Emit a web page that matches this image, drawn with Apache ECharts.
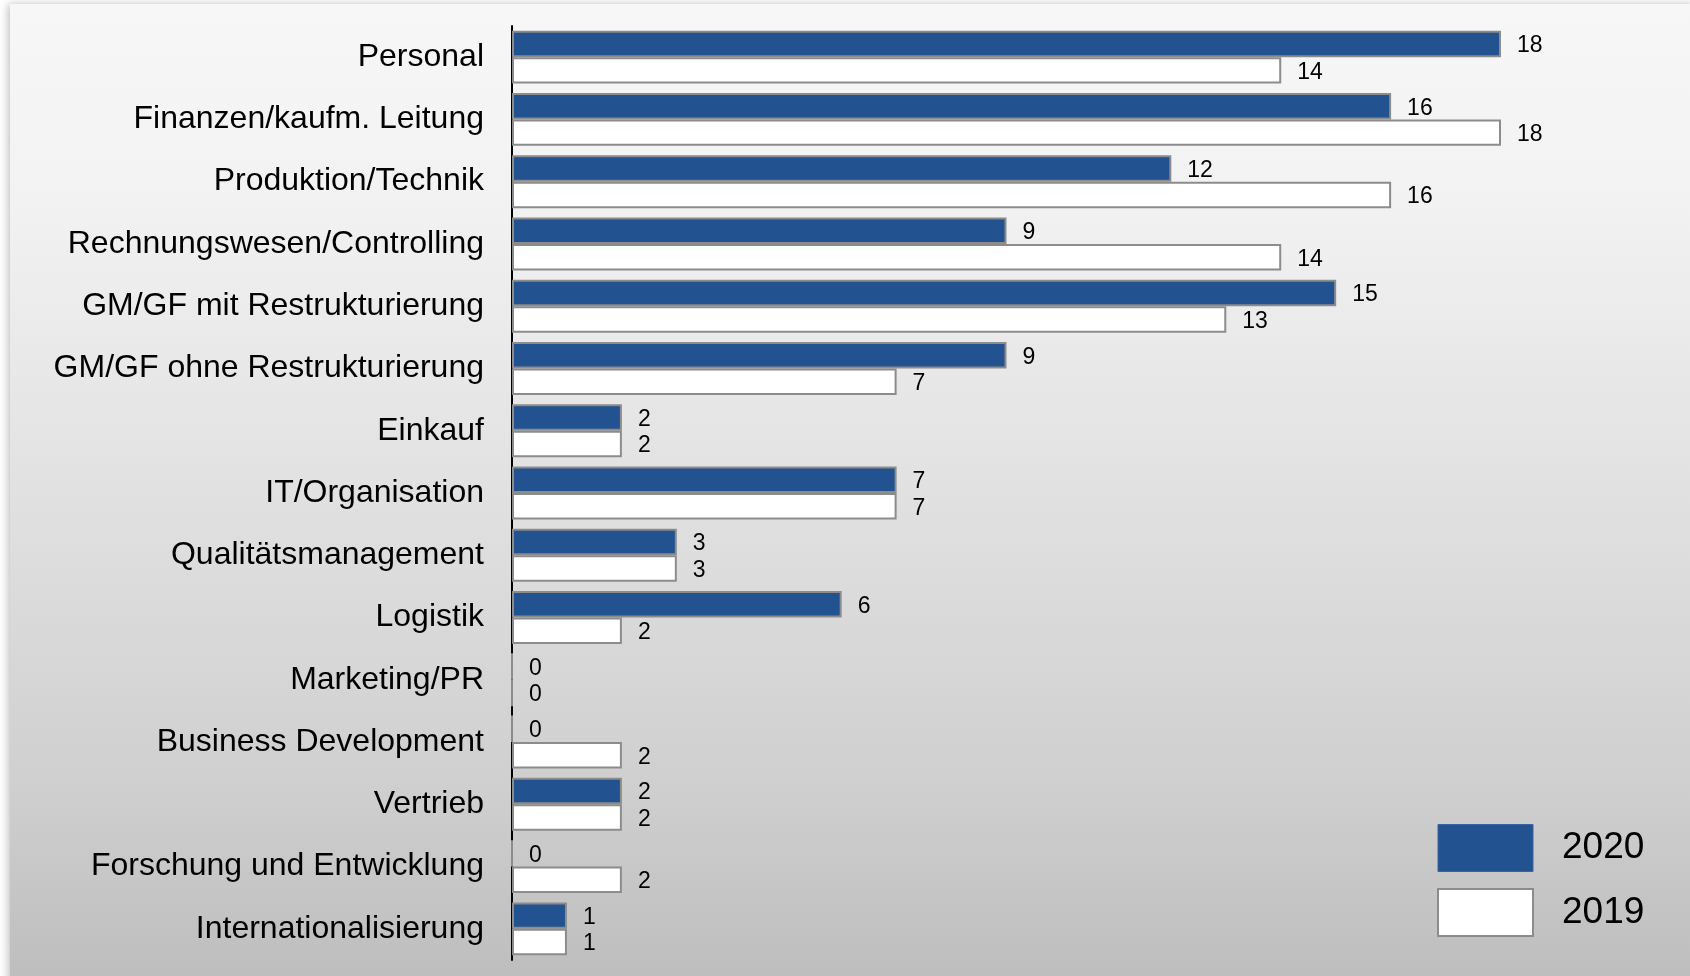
<!DOCTYPE html>
<html>
<head>
<meta charset="utf-8">
<script src="https://cdn.jsdelivr.net/npm/echarts@6/dist/echarts.min.js"></script>
<style>
html,body{margin:0;padding:0;background:#fff;}
#chart{width:1690px;height:976px;}
</style>
</head>
<body>
<div id="chart"></div>
<script>
const categories = [
  "Personal",
  "Finanzen/kaufm. Leitung",
  "Produktion/Technik",
  "Rechnungswesen/Controlling",
  "GM/GF mit Restrukturierung",
  "GM/GF ohne Restrukturierung",
  "Einkauf",
  "IT/Organisation",
  "Qualitätsmanagement",
  "Logistik",
  "Marketing/PR",
  "Business Development",
  "Vertrieb",
  "Forschung und Entwicklung",
  "Internationalisierung"
];
const values2020 = [18, 16, 12, 9, 15, 9, 2, 7, 3, 6, 0, 0, 2, 0, 1];
const values2019 = [14, 18, 16, 14, 13, 7, 2, 7, 3, 2, 0, 2, 2, 2, 1];
const seriesNames = ["2020", "2019"];

const FONT = "Liberation Sans, Arial, sans-serif";
const chart = echarts.init(document.getElementById('chart'), null, {renderer: 'canvas'});

const labelCfg = {
  show: true,
  position: 'right',
  distance: 16,
  offset: [0, 2],
  fontSize: 23,
  color: '#000',
  fontFamily: FONT
};

chart.setOption({
  animation: false,
  textStyle: {fontFamily: FONT},
  graphic: {
    elements: [{
      type: 'rect',
      z: -100,
      silent: true,
      shape: {x: 10, y: 4, width: 1685, height: 980},
      style: {
        fill: new echarts.graphic.LinearGradient(0, 0, 0, 1, [
          {offset: 0, color: '#f7f7f7'},
          {offset: 0.2, color: '#f2f2f2'},
          {offset: 0.5, color: '#e1e1e1'},
          {offset: 0.8, color: '#cfcfcf'},
          {offset: 1, color: '#bdbdbd'}
        ]),
        shadowBlur: 8,
        shadowColor: 'rgba(0,0,0,0.25)',
        shadowOffsetX: -2,
        shadowOffsetY: 0
      }
    }]
  },
  grid: {left: 512, top: 26, width: 989, bottom: 16, containLabel: false},
  xAxis: {
    type: 'value',
    min: 0,
    max: 18,
    show: false,
    splitLine: {show: false}
  },
  yAxis: {
    type: 'category',
    data: categories,
    inverse: true,
    axisLine: {show: true, lineStyle: {color: '#000', width: 2}},
    axisTick: {show: false},
    axisLabel: {fontSize: 32, color: '#000', margin: 28, fontFamily: FONT}
  },
  legend: {
    orient: 'vertical',
    left: 1432,
    top: 819,
    itemWidth: 95,
    itemHeight: 47,
    itemGap: 16,
    icon: 'rect',
    textStyle: {fontSize: 37, color: '#000', fontFamily: FONT, padding: [0, 0, 0, 24]},
    data: [
      {name: seriesNames[0], itemStyle: {borderColor: '#3b63a0', borderWidth: 1}},
      {name: seriesNames[1], itemStyle: {borderColor: '#8c8c8c', borderWidth: 2}}
    ]
  },
  series: [
    {
      name: seriesNames[0],
      type: 'bar',
      data: values2020,
      barGap: '0%',
      barCategoryGap: '15%',
      itemStyle: {color: '#22528f', borderColor: '#8c8c8c', borderWidth: 2},
      label: labelCfg
    },
    {
      name: seriesNames[1],
      type: 'bar',
      data: values2019,
      barGap: '0%',
      barCategoryGap: '15%',
      itemStyle: {color: '#ffffff', borderColor: '#8c8c8c', borderWidth: 2},
      label: labelCfg
    }
  ]
});
</script>
</body>
</html>
